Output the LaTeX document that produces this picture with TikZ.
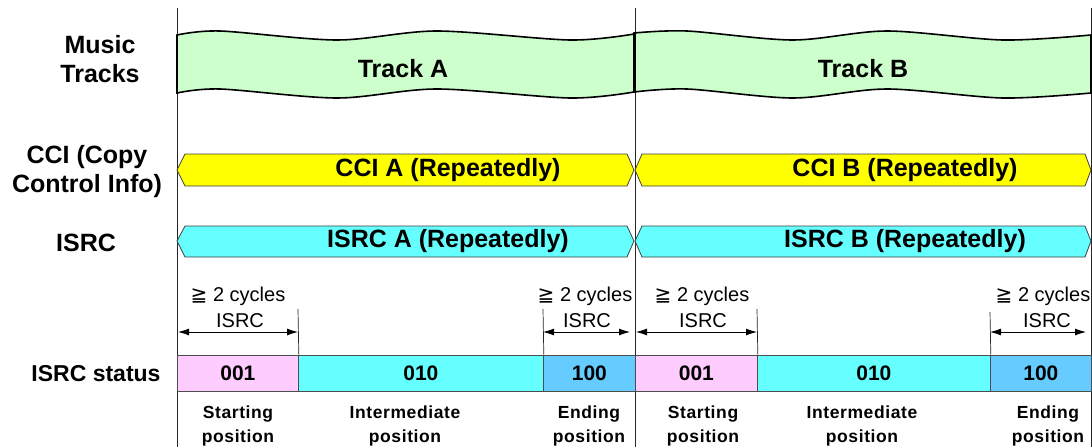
\documentclass[tikz,border=0pt]{standalone}
\usepackage{fontspec}
\setmainfont{Liberation Sans}
\newfontfamily\dvs{DejaVu Sans}
\newfontfamily\spaced[LetterSpace=3.5]{Liberation Sans}
\usetikzlibrary{arrows.meta}
\definecolor{trackgreen}{HTML}{CCFFCC}
\definecolor{cciyellow}{HTML}{FFFF00}
\definecolor{isrccyan}{HTML}{66FFFF}
\definecolor{pinkc}{HTML}{FFCCFF}
\definecolor{blue100}{HTML}{66CCFF}
\tikzset{
  lbl/.style={font=\fontsize{25}{29}\selectfont\bfseries, align=center},
  bandtxt/.style={font=\fontsize{25}{29}\selectfont\bfseries},
  trackbox/.style={draw=black, line width=1.6pt, fill=trackgreen},
  band/.style={draw=black!75, line width=0.8pt},
  cell/.style={draw=black!70, line width=0.8pt, minimum height=36pt, inner sep=0pt, anchor=west, font=\fontsize{21}{24}\selectfont\bfseries},
  dim/.style={line width=0.8pt, {Latex[length=11pt,width=7pt]}-{Latex[length=11pt,width=7pt]}},
  dimtxt/.style={font=\fontsize{20}{24}\selectfont},
  postxt/.style={font=\spaced\bfseries\fontsize{17.5}{24}\selectfont, align=center},
  guide/.style={line width=0.7pt, draw=black!85},
}
\begin{document}
\begin{tikzpicture}[x=1pt,y=-1pt]
\useasboundingbox[fill=white] (0,0) rectangle (1092,447);

% guide lines
\coordinate (g1t) at (177,8);   \coordinate (g1b) at (177,447);
\coordinate (g2t) at (635,8);   \coordinate (g2b) at (635,447);
\coordinate (g3t) at (1091,8);  \coordinate (g3b) at (1091,447);
\draw[guide] (g1t) -- (g1b);
\draw[guide] (g2t) -- (g2b);
\draw[guide] (g3t) -- (g3b);

% row labels
\node[lbl] (lmusic) at (100,59) {Music\\Tracks};
\node[lbl] (lcci) at (87,172) {CCI (Copy\\Control Info)};
\node[lbl] (lisrc) at (86,243) {ISRC};
\node[lbl, font=\fontsize{23}{27}\selectfont\bfseries] (lstatus) at (96,374) {ISRC status};

% tracks
\draw[trackbox] plot[smooth] coordinates {(177,35) (220,31) (337,40) (437,31) (570,40) (634,34)}
  -- plot[smooth] coordinates {(634,92) (570,98) (437,89) (337,98) (220,89) (177,93)} -- cycle;
\draw[trackbox] plot[smooth] coordinates {(634,33) (687,31) (793,40) (887,31) (1003,40) (1091,35)}
  -- plot[smooth] coordinates {(1091,93) (1003,98) (887,89) (793,98) (687,89) (634,92)} -- cycle;
\draw[line width=3pt] (634,33) -- (634,93);
\node[bandtxt] (tra) at (403,69) {Track A};
\node[bandtxt] (trb) at (863,69) {Track B};

% CCI bands
\draw[band, fill=cciyellow] (177,170) -- (185,154) -- (627,154) -- (634,170) -- (627,186) -- (185,186) -- cycle;
\draw[band, fill=cciyellow] (635,170) -- (642,154) -- (1085,154) -- (1091,170) -- (1085,186) -- (642,186) -- cycle;
\node[bandtxt] (ccia) at (448,170) {CCI A (Repeatedly)};
\node[bandtxt] (ccib) at (905,170) {CCI B (Repeatedly)};

% ISRC bands
\draw[band, fill=isrccyan] (177,241) -- (185,226) -- (627,226) -- (634,241) -- (627,257) -- (185,257) -- cycle;
\draw[band, fill=isrccyan] (635,241) -- (642,226) -- (1085,226) -- (1091,241) -- (1085,257) -- (642,257) -- cycle;
\node[bandtxt] (isrca) at (448,241) {ISRC A (Repeatedly)};
\node[bandtxt] (isrcb) at (905,241) {ISRC B (Repeatedly)};

% status cells
\node[cell, fill=pinkc, minimum width=121pt] (a1) at (177,373) {001};
\node[cell, fill=isrccyan, minimum width=245pt] (a2) at (298,373) {010};
\node[cell, fill=blue100, minimum width=92pt] (a3) at (543,373) {100};
\node[cell, fill=pinkc, minimum width=122pt] (b1) at (635,373) {001};
\node[cell, fill=isrccyan, minimum width=233pt] (b2) at (757,373) {010};
\node[cell, fill=blue100, minimum width=101pt] (b3) at (990,373) {100};

% ticks
\coordinate (t1) at (298,309); \coordinate (t2) at (543,309);
\coordinate (t3) at (757,309); \coordinate (t4) at (990,312);
\draw[guide] (t1) -- (a1.north east);
\draw[guide] (t2) -- (a2.north east);
\draw[guide] (t3) -- (b1.north east);
\draw[guide] (t4) -- (b2.north east);

% dimension arrows
\coordinate (d1l) at (178,332); \coordinate (d1r) at (298,332);
\coordinate (d2l) at (543,332); \coordinate (d2r) at (630,332);
\coordinate (d3l) at (636,332); \coordinate (d3r) at (757,332);
\coordinate (d4l) at (990,332); \coordinate (d4r) at (1086,332);
\draw[dim] (d1l) -- (d1r);
\draw[dim] (d2l) -- (d2r);
\draw[dim] (d3l) -- (d3r);
\draw[dim] (d4l) -- (d4r);

\node[dimtxt] (c1) at (238,296) {{\dvs ≧} 2 cycles};
\node[dimtxt] (i1) at (240,321) {ISRC};
\node[dimtxt] (c2) at (585,296) {{\dvs ≧} 2 cycles};
\node[dimtxt] (i2) at (587,321) {ISRC};
\node[dimtxt] (c3) at (702,296) {{\dvs ≧} 2 cycles};
\node[dimtxt] (i3) at (703,321) {ISRC};
\node[dimtxt] (c4) at (1043,296) {{\dvs ≧} 2 cycles};
\node[dimtxt] (i4) at (1047,321) {ISRC};

% position labels
\node[postxt] (p1) at (238,426) {Starting\\position};
\node[postxt] (p2) at (405,426) {Intermediate\\position};
\node[postxt] (p3) at (589,426) {Ending\\position};
\node[postxt] (p4) at (703,426) {Starting\\position};
\node[postxt] (p5) at (862,426) {Intermediate\\position};
\node[postxt] (p6) at (1048,426) {Ending\\position};
\end{tikzpicture}
\end{document}
